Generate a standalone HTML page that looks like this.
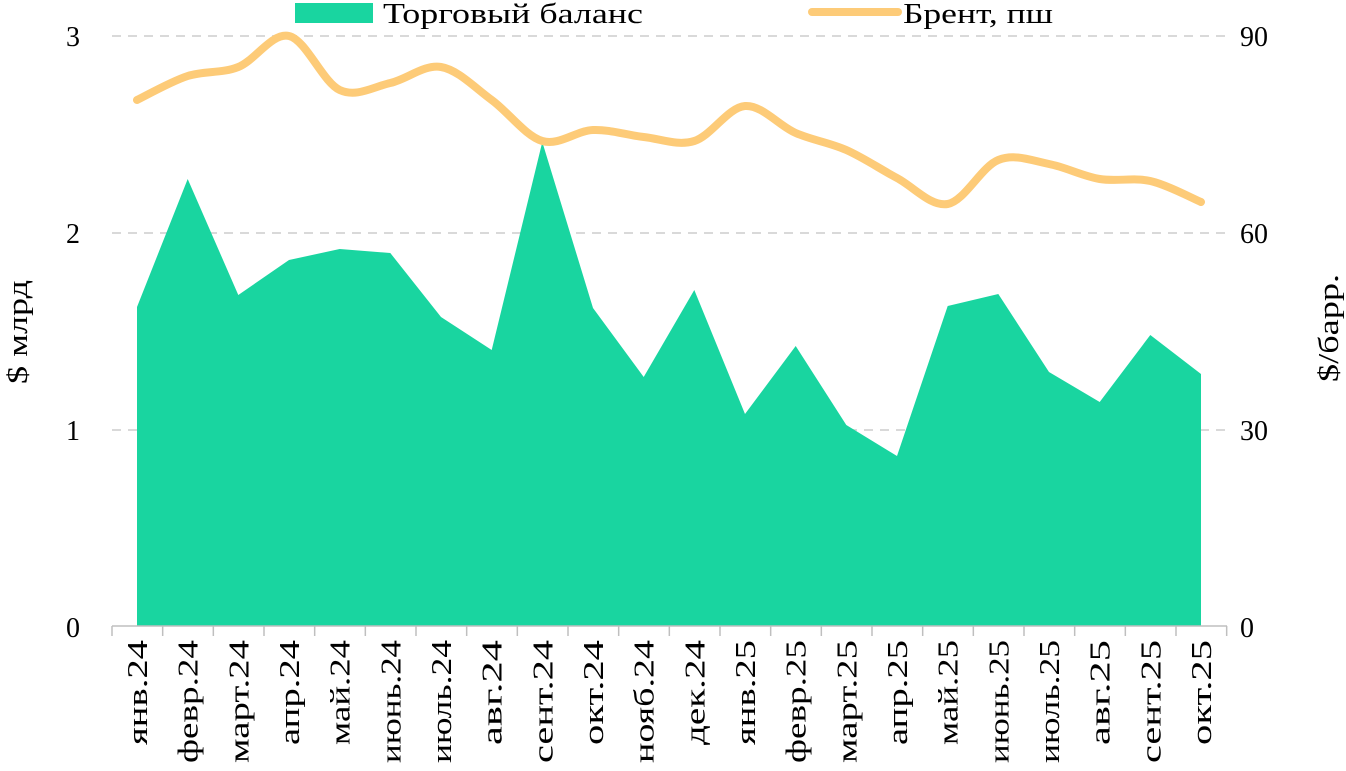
<!DOCTYPE html>
<html><head><meta charset="utf-8"><style>
html,body{margin:0;padding:0;background:#fff;}
svg{display:block;font-family:"Liberation Serif",serif;}
</style></head><body>
<svg id="s" width="1346" height="771" viewBox="0 0 1346 771" xmlns="http://www.w3.org/2000/svg">
<g stroke="#d9d9d9" stroke-width="2" stroke-dasharray="9,7">
<line x1="112" y1="36" x2="1227" y2="36"/>
<line x1="112" y1="233" x2="1227" y2="233"/>
<line x1="112" y1="430" x2="1227" y2="430"/>
</g>
<path id="area" fill="#19d5a0"/>
<path id="brent" fill="none" stroke="#fdcb78" stroke-width="8" stroke-linecap="round"/>
<line x1="112" y1="626" x2="1227" y2="626" stroke="#bfbfbf" stroke-width="1.5"/>
<g id="ticks" stroke="#bfbfbf" stroke-width="1.5"></g>
<g font-size="28" fill="#000">
<text x="80" y="46" text-anchor="end">3</text>
<text x="80" y="243" text-anchor="end">2</text>
<text x="80" y="440" text-anchor="end">1</text>
<text x="80" y="637" text-anchor="end">0</text>
<text x="1240" y="46">90</text>
<text x="1240" y="243">60</text>
<text x="1240" y="440">30</text>
<text x="1240" y="637">0</text>
<text transform="translate(27,332) rotate(-90)" text-anchor="middle" textLength="104" lengthAdjust="spacingAndGlyphs">$ млрд</text>
<text transform="translate(1338,328) rotate(-90)" text-anchor="middle" textLength="108" lengthAdjust="spacingAndGlyphs">$/барр.</text>
</g>
<g id="labels" font-size="29" fill="#000"></g>
<rect x="295" y="3" width="78" height="20" fill="#19d5a0"/>
<text x="383" y="23" font-size="28" textLength="260" lengthAdjust="spacingAndGlyphs">Торговый баланс</text>
<line x1="812" y1="12" x2="898" y2="12" stroke="#fdcb78" stroke-width="8" stroke-linecap="round"/>
<text x="903" y="23" font-size="28" textLength="150" lengthAdjust="spacingAndGlyphs">Брент, пш</text>
</svg>
<script>
var cats=["янв.24","февр.24","март.24","апр.24","май.24","июнь.24","июль.24","авг.24","сент.24","окт.24","нояб.24","дек.24","янв.25","февр.25","март.25","апр.25","май.25","июнь.25","июль.25","авг.25","сент.25","окт.25"];
var a=[307,179,295,260,249,253,317,350,142,308,377,290,414,346,425,456,306,294,372,402,335,374];
var b=[100,76,67,36,90,83,67,100,141,130,137,141,106,133,150,178,204,160,164,179,181,202];
var x0=137,st=(1201-137)/21;
function X(i){return x0+i*st;}
var d="M"+X(0)+",626";
for(var i=0;i<a.length;i++)d+=" L"+X(i).toFixed(1)+","+a[i];
d+=" L"+X(21)+",626 Z";
document.getElementById("area").setAttribute("d",d);
var p="M"+X(0)+","+b[0];
for(var i=0;i<b.length-1;i++){
 var p0=i>0?i-1:i,p3=i+2<b.length?i+2:i+1;
 var c1x=X(i)+(X(i+1)-X(p0))/6,c1y=b[i]+(b[i+1]-b[p0])/6;
 var c2x=X(i+1)-(X(p3)-X(i))/6,c2y=b[i+1]-(b[p3]-b[i])/6;
 p+=" C"+c1x.toFixed(1)+","+c1y.toFixed(1)+" "+c2x.toFixed(1)+","+c2y.toFixed(1)+" "+X(i+1).toFixed(1)+","+b[i+1];
}
document.getElementById("brent").setAttribute("d",p);
var ns="http://www.w3.org/2000/svg",t=document.getElementById("ticks"),L=document.getElementById("labels");
for(var i=0;i<=22;i++){var l=document.createElementNS(ns,"line");var xx=112+i*st;l.setAttribute("x1",xx);l.setAttribute("x2",xx);l.setAttribute("y1",626);l.setAttribute("y2",636);t.appendChild(l);}
for(var i=0;i<22;i++){var tx=document.createElementNS(ns,"text");tx.setAttribute("transform","translate("+(X(i)+10)+",640) rotate(-90)");tx.setAttribute("text-anchor","end");tx.setAttribute("textLength",(cats[i].length*17.5).toFixed(0));tx.setAttribute("lengthAdjust","spacingAndGlyphs");tx.textContent=cats[i];L.appendChild(tx);}
</script>
</body></html>
